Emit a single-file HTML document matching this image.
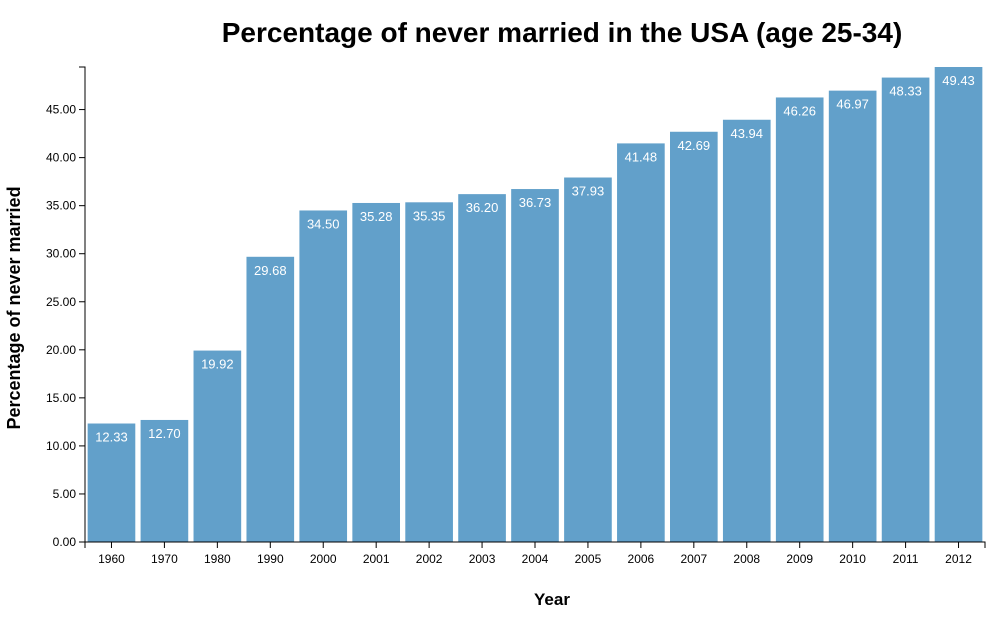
<!DOCTYPE html>
<html><head><meta charset="utf-8"><style>
body{margin:0;background:#fff;font-family:"Liberation Sans",Arial,sans-serif;}
</style></head><body>
<svg id="chart" width="1005" height="620" xmlns="http://www.w3.org/2000/svg">
<text x="562" y="42" text-anchor="middle" font-size="28" font-weight="bold" fill="#000">Percentage of never married in the USA (age 25-34)</text>
<text transform="translate(20,308) rotate(-90)" text-anchor="middle" font-size="18" font-weight="bold">Percentage of never married</text>
<text x="552" y="605" text-anchor="middle" font-size="17" font-weight="bold">Year</text>
<g id="bars"></g><g id="yaxis"></g><g id="xaxis"></g>
</svg>
<script>
const years=["1960","1970","1980","1990","2000","2001","2002","2003","2004","2005","2006","2007","2008","2009","2010","2011","2012"];
const values=[12.33,12.70,19.92,29.68,34.50,35.28,35.35,36.20,36.73,37.93,41.48,42.69,43.94,46.26,46.97,48.33,49.43];
const yTicks=[0,5,10,15,20,25,30,35,40,45];
const NS="http://www.w3.org/2000/svg";
const L=85,R=985,T=67,B=542;
const yMax=Math.max(...values);
const y=v=>B-(v/yMax)*(B-T);
const band=(R-L)/years.length,pad=0.1;
const x=i=>L+i*band+band*pad/2;
const bw=band*(1-pad);
function mk(t,a,p){const e=document.createElementNS(NS,t);for(const k in a)e.setAttribute(k,a[k]);p.appendChild(e);return e;}
const gb=document.getElementById('bars'),gy=document.getElementById('yaxis'),gx=document.getElementById('xaxis');
values.forEach((v,i)=>{
 const r=mk('rect',{x:x(i),y:y(v),width:bw,height:B-y(v),fill:'#62a0ca'},gb);
 
 
 const t=mk('text',{x:x(i)+bw/2,y:y(v)+18,'text-anchor':'middle','font-size':13,fill:'#fff'},gb);
 t.textContent=v.toFixed(2);
 
 
});
const ya=mk('path',{d:`M${L-6},${T}H${L}V${B}H${L-6}`,stroke:'#000',fill:'none'},gy);


yTicks.forEach(v=>{
 mk('line',{x1:L-6,x2:L,y1:y(v),y2:y(v),stroke:'#000'},gy);
 const t=mk('text',{x:L-9,y:y(v)+4,'text-anchor':'end','font-size':12},gy);
 t.textContent=v.toFixed(2);
 
 
});
const xa=mk('path',{d:`M${L},${B+6}V${B}H${R}V${B+6}`,stroke:'#000',fill:'none'},gx);


years.forEach((yr,i)=>{
 const cx=L+i*band+band/2;
 mk('line',{x1:cx,x2:cx,y1:B,y2:B+6,stroke:'#000'},gx);
 const t=mk('text',{x:cx,y:B+21,'text-anchor':'middle','font-size':12},gx);
 t.textContent=yr;
 
 
});
</script>
</body></html>
